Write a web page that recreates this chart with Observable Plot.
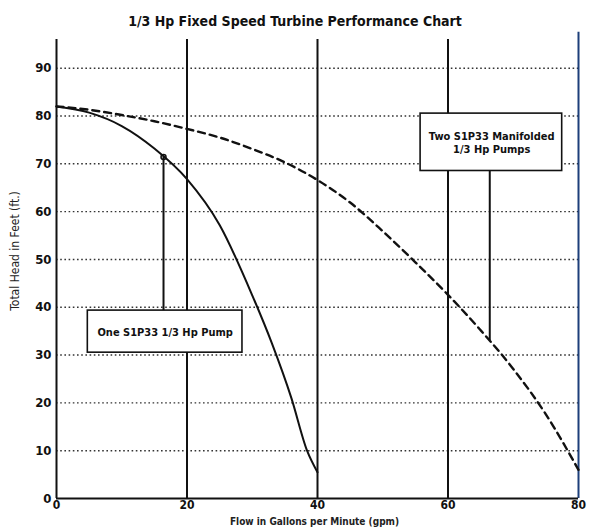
<!DOCTYPE html>
<html>
<head>
<meta charset="utf-8">
<script src="https://cdn.jsdelivr.net/npm/d3@7"></script>
<script src="https://cdn.jsdelivr.net/npm/@observablehq/plot@0.6"></script>
<style>
  html, body { margin: 0; padding: 0; background: #fff; overflow: hidden; }
  #title { height: 27px; box-sizing: border-box; padding-top: 13px; line-height: 14px; text-align: center;
    font: bold 14px "DejaVu Sans Condensed", "Liberation Sans Narrow", "DejaVu Sans", sans-serif; color: #111; }
</style>
</head>
<body>
<div id="title">1/3 Hp Fixed Speed Turbine Performance Chart</div>
<div id="chart"></div>
<script>
const FONT = '"DejaVu Sans Condensed", "Liberation Sans Narrow", "DejaVu Sans", sans-serif';

// Flow (gpm) and head (ft)
const singleFlow = [0, 5, 10, 15, 20, 25, 30, 33, 36, 38.4, 40];
const singleHead = [82, 80.7, 77.9, 73.2, 66.8, 57.2, 42.5, 32.5, 21, 10, 5.5];

const dualFlow = [0, 5, 10, 15, 20, 25, 30, 35, 40, 45, 50, 55, 60, 65, 70, 75, 80];
const dualHead = [82, 81.3, 80.2, 78.9, 77.3, 75.5, 73.1, 70.3, 66.6, 61.9, 55.9, 49.4, 42.6, 35.2, 27.1, 17.6, 6];

const xTicks = [0, 20, 40, 60, 80];
const yTicks = [0, 10, 20, 30, 40, 50, 60, 70, 80, 90];
const gridY = [10, 20, 30, 40, 50, 60, 70, 80, 90];
const gridX = [20, 40, 60];
const yTop = 96;

const notes = [
  {x1: 4.8, x2: 28.5, y1: 30.5, y2: 39.3, px: 16.4, pFrom: 39.3, pTo: 71.4, tx: 16.65, ty: 34.9, text: "One S1P33 1/3 Hp Pump"},
  {x1: 55.8, x2: 77.5, y1: 68.5, y2: 80.5, px: 66.4, pFrom: 68.5, pTo: 33, tx: 66.7, ty: 74.5, text: "Two S1P33 Manifolded\n1/3 Hp Pumps"}
];

const single = singleFlow.map((x, i) => ({x, y: singleHead[i]}));
const dual = dualFlow.map((x, i) => ({x, y: dualHead[i]}));

const chart = Plot.plot({
  width: 590,
  height: 500,
  marginLeft: 56,
  marginRight: 12,
  marginTop: 12,
  marginBottom: 29,
  style: {fontFamily: FONT, background: "#fff", overflow: "visible"},
  x: {domain: [0, 80]},
  y: {domain: [0, yTop]},
  marks: [
    Plot.ruleY(gridY, {x1: 0, x2: 80, stroke: "#333", strokeWidth: 1.4, strokeDasharray: "1.6,2.6"}),
    Plot.ruleX(gridX, {y1: 0, y2: yTop, stroke: "#111", strokeWidth: 2}),
    Plot.ruleX([80], {y1: 0, y2: yTop + 1.5, stroke: "#1d3f7a", strokeWidth: 2}),
    Plot.ruleX([0], {y1: 0, y2: yTop, stroke: "#111", strokeWidth: 2}),
    Plot.ruleY([0], {x1: 0, x2: 80, stroke: "#111", strokeWidth: 2}),
    Plot.rect(notes, {x1: "x1", x2: "x2", y1: "y1", y2: "y2", fill: "#fff", stroke: "#111", strokeWidth: 1.6}),
    Plot.ruleX(notes, {x: "px", y1: "pFrom", y2: "pTo", stroke: "#111", strokeWidth: 2}),
    Plot.dot([notes[0]], {x: "px", y: "pTo", r: 2.5, stroke: "#111", fill: "none", strokeWidth: 1.5}),
    Plot.text(notes, {x: "tx", y: "ty", text: "text", fontSize: 11, fontWeight: "bold", fill: "#111", lineHeight: 1.18}),
    Plot.line(single, {x: "x", y: "y", curve: "monotone-x", stroke: "#111", strokeWidth: 2}),
    Plot.line(dual, {x: "x", y: "y", curve: "monotone-x", stroke: "#111", strokeWidth: 2.4, strokeDasharray: "7,5"}),
    Plot.axisY(yTicks, {tickSize: 0, tickPadding: 5, fontSize: 13, fontWeight: "bold", fill: "#111", label: null}),
    Plot.axisX(xTicks, {tickSize: 0, tickPadding: 2, fontSize: 12, fontWeight: "bold", fill: "#111", label: null}),
    Plot.text(["Total Head in Feet (ft.)"], {frameAnchor: "left", textAnchor: "middle", dx: -41, dy: -18, rotate: -90, fontSize: 12, fill: "#222"}),
    Plot.text(["Flow in Gallons per Minute (gpm)"], {x: 40, y: 0, dy: 23, dx: -3, fontSize: 10, fontWeight: "bold", fill: "#222"})
  ]
});
document.getElementById("chart").appendChild(chart);
</script>
</body>
</html>
